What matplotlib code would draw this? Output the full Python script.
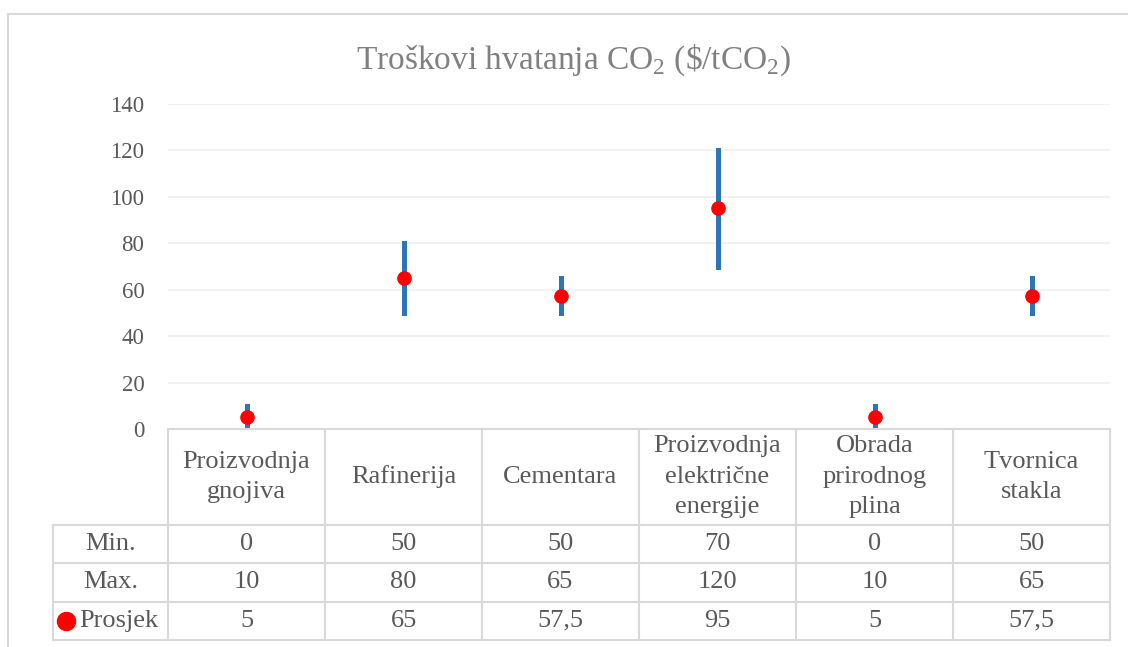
import matplotlib.pyplot as plt
from matplotlib.patches import Rectangle
from matplotlib.lines import Line2D

# data
categories = ['Proizvodnja\ngnojiva', 'Rafinerija', 'Cementara',
              'Proizvodnja\nelektrične\nenergije', 'Obrada\nprirodnog\nplina',
              'Tvornica\nstakla']
min_vals = [0, 50, 50, 70, 0, 50]
max_vals = [10, 80, 65, 120, 10, 65]
avg_vals = [5, 65, 57.5, 95, 5, 57.5]
avg_labels = ['5', '65', '57,5', '95', '5', '57,5']
yticks = [0, 20, 40, 60, 80, 100, 120, 140]

plt.rcParams['font.family'] = ['Liberation Serif', 'DejaVu Serif']
plt.rcParams['mathtext.fontset'] = 'custom'
plt.rcParams['mathtext.rm'] = 'Liberation Serif'

W, H = 1128, 647
fig = plt.figure(figsize=(W / 100, H / 100), dpi=100)

def px(x0, y0, x1, y1):
    return [x0 / W, 1 - y1 / H, (x1 - x0) / W, (y1 - y0) / H]

txt = '#595959'
grid = '#D9D9D9'

# outer chart border
fig.patches.append(Rectangle((8 / W, -0.1), 1.2, 1 - 14 / H + 0.1, transform=fig.transFigure,
                             fill=False, edgecolor='#D9D9D9', linewidth=1.5))

fig.text(574 / W, 1 - 60 / H, r'Troškovi hvatanja CO$_{2}$ (\$/tCO$_{2}$)',
         ha='center', va='center', fontsize=24, color='#808080')

# plot area
ax = fig.add_axes(px(168, 104, 1110, 429))
n = len(categories)
xs = list(range(n))
lc = ax.vlines(xs, min_vals, max_vals, color='#2E75B6', linewidth=3.6, zorder=3)
lc.set_capstyle('projecting')
ax.plot(xs, avg_vals, 'o', color='#FF0000', markersize=9.5, zorder=4)
ax.set_xlim(-0.5, n - 0.5)
ax.set_ylim(0, 140)
ax.set_yticks(yticks)
ax.set_yticklabels([str(v) for v in yticks], fontsize=16.5, color=txt)
ax.set_xticks([])
ax.tick_params(axis='y', length=0, pad=17)
ax.grid(axis='y', color='#F0F0F0', linewidth=1.2)
ax.set_axisbelow(True)
for s in ['top', 'right', 'left', 'bottom']:
    ax.spines[s].set_visible(False)

# data table
tb = fig.add_axes(px(168, 429, 1110, 640))
tb.set_xlim(-0.5, n - 0.5)
row_h = 38.5
head_h = 96
total = head_h + 3 * row_h
tb.set_ylim(total, 0)
tb.axis('off')
lab_w = 115 / 157.0
kw = dict(color=grid, linewidth=1.5, clip_on=False)
# horizontal lines
tb.add_line(Line2D([-0.5, n - 0.5], [0, 0], **kw))
for k in range(4):
    y = head_h + k * row_h
    tb.add_line(Line2D([-0.5 - lab_w, n - 0.5], [y, y], **kw))
# vertical lines
for i in range(n + 1):
    tb.add_line(Line2D([i - 0.5, i - 0.5], [0, total], **kw))
tb.add_line(Line2D([-0.5 - lab_w, -0.5 - lab_w], [head_h, total], **kw))

fs = 19
for i, c in enumerate(categories):
    tb.text(i, head_h / 2, c, ha='center', va='center', fontsize=fs, color=txt,
            linespacing=1.5)
rows = [('Min.', [str(v) for v in min_vals]),
        ('Max.', [str(v) for v in max_vals]),
        ('Prosjek', avg_labels)]
for r, (name, vals) in enumerate(rows):
    yc = head_h + (r + 0.5) * row_h
    for i, v in enumerate(vals):
        tb.text(i, yc, v, ha='center', va='center', fontsize=fs, color=txt)
    if name == 'Prosjek':
        tb.plot([-0.5 - lab_w + 0.085], [yc], 'o', color='#FF0000', markersize=13,
                clip_on=False)
        tb.text(-0.5 - lab_w / 2 + 0.055, yc, name, ha='center', va='center',
                fontsize=fs, color=txt)
    else:
        tb.text(-0.5 - lab_w / 2, yc, name, ha='center', va='center',
                fontsize=fs, color=txt)

fig.savefig('out.png', dpi=100)
